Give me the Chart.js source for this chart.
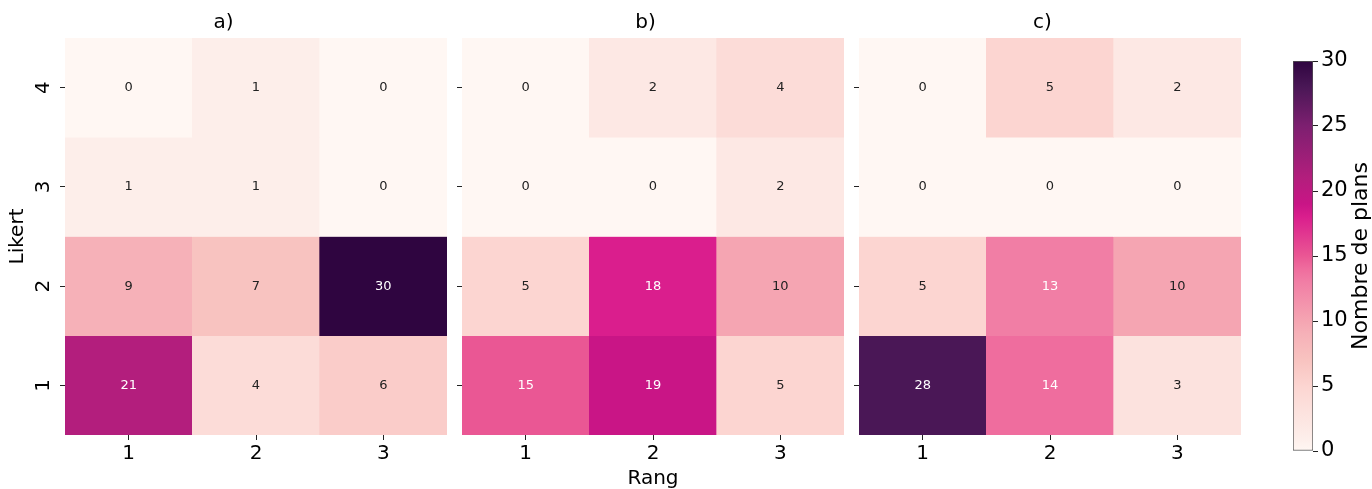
<!DOCTYPE html>
<html>
<head>
<meta charset="utf-8">
<script src="https://cdn.jsdelivr.net/npm/chart.js@4.4.0/dist/chart.umd.min.js"></script>
<style>
  body { margin: 0; background: #fff; width: 1372px; height: 489px; position: relative; overflow: hidden; }
  canvas { position: absolute; top: 0; }
</style>
</head>
<body>
<canvas id="chartA" width="447" height="489" style="left:0px"></canvas>
<canvas id="chartB" width="397" height="489" style="left:447px"></canvas>
<canvas id="chartC" width="397" height="489" style="left:844px"></canvas>
<canvas id="colorbar" width="123" height="489" style="left:1249px"></canvas>
<script>
// data
const rangLabels = ['1', '2', '3'];
const likertRows = [4, 3, 2, 1];           // top to bottom
const countsA = [[0, 1, 0], [1, 1, 0], [9, 7, 30], [21, 4, 6]];
const countsB = [[0, 2, 4], [0, 0, 2], [5, 18, 10], [15, 19, 5]];
const countsC = [[0, 5, 2], [0, 0, 0], [5, 13, 10], [28, 14, 3]];
const panelTitles = ['a)', 'b)', 'c)'];
const colorTicks = [0, 5, 10, 15, 20, 25, 30];
const vmin = 0, vmax = 30;

const FONT = "'DejaVu Sans', sans-serif";
Chart.defaults.font.family = FONT;
Chart.defaults.color = '#000';

// approximation of the colormap used
const stops = [
  [0, '#fff7f3'], [1, '#fdeeea'], [3, '#fce2de'], [5, '#fcd5d1'], [7, '#f8c3c0'],
  [9, '#f6b1b8'], [10, '#f5a5b2'], [13, '#f17ea5'], [14, '#ef6d9e'], [15, '#ea5794'],
  [18, '#da1e8d'], [19, '#c91586'], [21, '#b31e7d'], [25, '#7d1f70'], [28, '#4a1756'], [30, '#2f0540']
];
function hex(c) { return [1, 3, 5].map(i => parseInt(c.substr(i, 2), 16)); }
function colorFor(v) {
  for (let i = 1; i < stops.length; i++) {
    if (v <= stops[i][0]) {
      const [v0, c0] = stops[i - 1], [v1, c1] = stops[i];
      const t = (v - v0) / (v1 - v0);
      const a = hex(c0), b = hex(c1);
      return 'rgb(' + a.map((x, k) => Math.round(x + (b[k] - x) * t)).join(',') + ')';
    }
  }
  return stops[stops.length - 1][1];
}

// write counts in the middle of each cell
const cellLabels = {
  id: 'cellLabels',
  afterDatasetsDraw(chart) {
    const ctx = chart.ctx;
    ctx.save();
    ctx.font = '13px ' + FONT;
    ctx.textAlign = 'center';
    ctx.textBaseline = 'middle';
    chart.data.datasets.forEach((ds, i) => {
      chart.getDatasetMeta(i).data.forEach((bar, j) => {
        const v = ds.counts[j];
        ctx.fillStyle = v >= 12 ? '#fff' : '#222';
        ctx.fillText(String(v), bar.x, (bar.y + bar.base) / 2);
      });
    });
    ctx.restore();
  }
};

// rotated y tick labels (first panel only)
const yTickText = {
  id: 'yTickText',
  afterDraw(chart) {
    if (!chart.options.plugins.yTickText.show) return;
    const ctx = chart.ctx, y = chart.scales.y;
    ctx.save();
    ctx.font = '20px ' + FONT;
    ctx.fillStyle = '#000';
    ctx.textAlign = 'center';
    ctx.textBaseline = 'middle';
    likertRows.forEach(r => {
      ctx.save();
      ctx.translate(44, y.getPixelForValue(r));
      ctx.rotate(-Math.PI / 2);
      ctx.fillText(String(r), 0, 0);
      ctx.restore();
    });
    ctx.restore();
  }
};

function makePanel(id, counts, title, first, showX) {
  const datasets = likertRows.map((r, i) => ({
    data: rangLabels.map(() => [r - 0.5, r + 0.5]),
    counts: counts[i],
    backgroundColor: counts[i].map(colorFor),
    borderWidth: 0,
    barPercentage: 1,
    categoryPercentage: 1,
    grouped: false
  }));
  return new Chart(document.getElementById(id), {
    type: 'bar',
    data: { labels: rangLabels, datasets: datasets },
    plugins: [cellLabels, yTickText],
    options: {
      responsive: false,
      animation: false,
      layout: { padding: { left: 0, right: 0, top: 0, bottom: 0 } },
      plugins: {
        legend: { display: false },
        tooltip: { enabled: false },
        title: { display: true, text: title, font: { size: 20, weight: 'normal', lineHeight: 1.2 }, padding: { top: 11, bottom: 3 }, color: '#000' },
        yTickText: { show: first }
      },
      scales: {
        x: {
          offset: true,
          grid: { offset: false, drawOnChartArea: false, tickLength: 5, color: '#222' },
          border: { display: false },
          ticks: { font: { size: 20 }, padding: 2, color: '#000' },
          title: { display: showX, text: 'Rang', font: { size: 20, lineHeight: 1 }, padding: { top: 0, bottom: 0 }, color: '#000' },
          afterFit(s) { s.height = 54; }
        },
        y: {
          min: 0.5, max: 4.5,
          grid: { drawOnChartArea: false, tickLength: 5, color: '#222' },
          border: { display: false },
          ticks: { display: false },
          afterBuildTicks(s) { s.ticks = likertRows.map(v => ({ value: v })); },
          title: { display: first, text: 'Likert', font: { size: 20, lineHeight: 1.2 }, padding: { top: 6, bottom: 0 }, color: '#000' },
          afterFit(s) { s.width = first ? 65 : 15; }
        }
      }
    }
  });
}

makePanel('chartA', countsA, panelTitles[0], true, false);
makePanel('chartB', countsB, panelTitles[1], false, true);
makePanel('chartC', countsC, panelTitles[2], false, false);

// colorbar
const cbarLabel = {
  id: 'cbarLabel',
  afterDraw(chart) {
    const ctx = chart.ctx, a = chart.chartArea;
    ctx.save();
    ctx.font = '22px ' + FONT;
    ctx.fillStyle = '#000';
    ctx.textAlign = 'center';
    ctx.textBaseline = 'middle';
    ctx.translate(112, (a.top + a.bottom) / 2);
    ctx.rotate(-Math.PI / 2);
    ctx.fillText('Nombre de plans', 0, 0);
    ctx.restore();
  }
};

new Chart(document.getElementById('colorbar'), {
  type: 'bar',
  data: {
    labels: [''],
    datasets: [{
      data: [[vmin, vmax]],
      backgroundColor(c) {
        const y = c.chart.scales.y;
        if (!c.chart.chartArea || !y) return '#fff';
        const y0 = y.getPixelForValue(vmin), y1 = y.getPixelForValue(vmax);
        if (!isFinite(y0) || !isFinite(y1)) return '#fff';
        const g = c.chart.ctx.createLinearGradient(0, y0, 0, y1);
        stops.forEach(s => g.addColorStop((s[0] - vmin) / (vmax - vmin), s[1]));
        return g;
      },
      borderColor: '#555',
      borderWidth: 1,
      borderSkipped: false,
      barPercentage: 1,
      categoryPercentage: 1
    }]
  },
  plugins: [cbarLabel],
  options: {
    responsive: false,
    animation: false,
    layout: { padding: { left: 44, right: 0, top: 61, bottom: 38 } },
    plugins: { legend: { display: false }, tooltip: { enabled: false } },
    scales: {
      x: { display: false },
      y: {
        position: 'right',
        min: vmin, max: vmax,
        afterBuildTicks(s) { s.ticks = colorTicks.map(v => ({ value: v })); },
        grid: { drawOnChartArea: false, tickLength: 5, color: '#222' },
        border: { display: false },
        ticks: { font: { size: 21 }, padding: 3, color: '#000' },
        afterFit(s) { s.width = 59; }
      }
    }
  }
});
</script>
</body>
</html>
